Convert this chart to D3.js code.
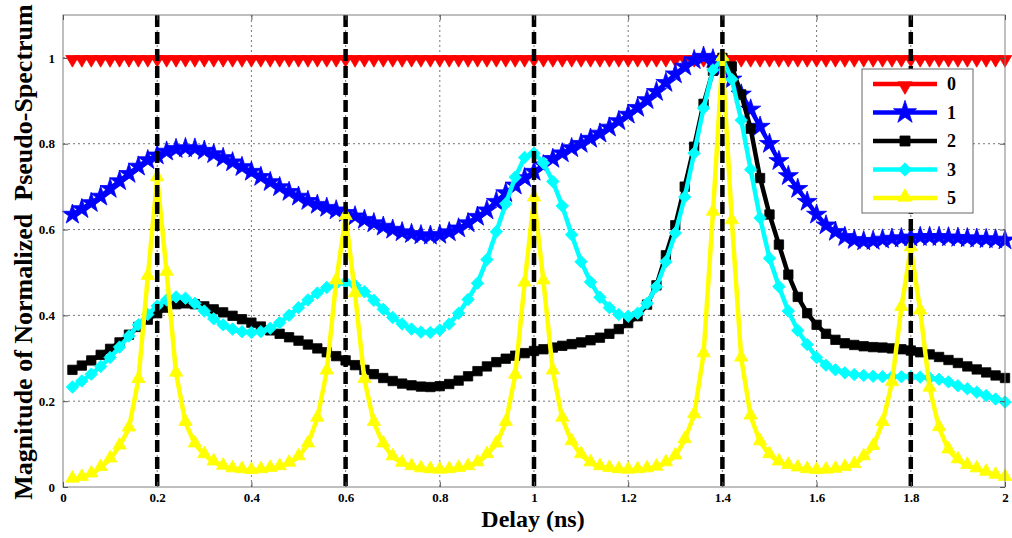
<!DOCTYPE html>
<html>
<head>
<meta charset="UTF-8">
<style>
  body { margin: 0; background: #fff; }
  svg text { font-family: "Liberation Serif", "Times New Roman", serif; font-weight: bold; }
  .grid line { stroke: #777; stroke-width: 1; stroke-dasharray: 2,3; }
  .axis path { display: none; }
  .axis line { stroke: #555; }
  .axis text { font-size: 13px; fill: #000; }
</style>
</head>
<body>
<script src="https://cdn.jsdelivr.net/npm/d3@7"></script>
<script>
var delay = d3.range(1, 101).map(function(i) { return +(i * 0.02).toFixed(2); });

var s0 = delay.map(function() { return 1; });
var s1 = [0.635,0.648,0.662,0.677,0.695,0.713,0.730,0.747,0.762,0.773,
          0.782,0.788,0.790,0.789,0.784,0.776,0.767,0.757,0.746,0.735,
          0.723,0.711,0.699,0.688,0.677,0.667,0.658,0.651,0.645,0.639,
          0.631,0.623,0.615,0.607,0.600,0.594,0.590,0.587,0.586,0.588,
          0.594,0.603,0.615,0.630,0.645,0.665,0.685,0.703,0.720,0.735,
          0.750,0.765,0.778,0.790,0.800,0.812,0.824,0.838,0.853,0.868,
          0.884,0.902,0.921,0.942,0.962,0.980,0.995,1.003,0.997,0.978,
          0.950,0.915,0.880,0.840,0.800,0.760,0.725,0.695,0.665,0.635,
          0.610,0.595,0.583,0.576,0.573,0.574,0.577,0.579,0.580,0.582,
          0.583,0.583,0.583,0.582,0.581,0.580,0.579,0.578,0.577,0.575];
var s2 = [0.273,0.283,0.295,0.308,0.322,0.337,0.355,0.373,0.390,0.405,
          0.418,0.426,0.428,0.426,0.421,0.414,0.407,0.399,0.391,0.383,
          0.374,0.365,0.357,0.349,0.341,0.332,0.323,0.314,0.305,0.295,
          0.284,0.273,0.263,0.254,0.247,0.241,0.237,0.234,0.233,0.235,
          0.240,0.248,0.258,0.270,0.281,0.291,0.299,0.306,0.312,0.317,
          0.321,0.325,0.329,0.333,0.337,0.342,0.348,0.357,0.368,0.382,
          0.398,0.425,0.470,0.540,0.610,0.700,0.793,0.893,0.970,1.000,
          0.980,0.915,0.835,0.720,0.635,0.565,0.495,0.443,0.405,0.378,
          0.357,0.343,0.335,0.331,0.328,0.326,0.325,0.323,0.321,0.318,
          0.314,0.309,0.303,0.296,0.289,0.281,0.274,0.267,0.260,0.254];
var s3 = [0.233,0.247,0.263,0.281,0.302,0.326,0.352,0.378,0.402,0.422,
          0.436,0.443,0.440,0.428,0.410,0.392,0.378,0.368,0.362,0.360,
          0.362,0.370,0.383,0.400,0.418,0.436,0.452,0.465,0.474,0.477,
          0.470,0.455,0.435,0.414,0.395,0.380,0.368,0.361,0.360,0.366,
          0.380,0.405,0.437,0.475,0.530,0.595,0.660,0.722,0.768,0.778,
          0.755,0.712,0.655,0.588,0.525,0.478,0.442,0.418,0.402,0.398,
          0.405,0.428,0.467,0.525,0.592,0.676,0.778,0.883,0.972,0.998,
          0.950,0.855,0.740,0.627,0.533,0.467,0.410,0.365,0.332,0.302,
          0.284,0.273,0.266,0.262,0.260,0.258,0.257,0.257,0.257,0.257,
          0.256,0.254,0.251,0.245,0.236,0.229,0.221,0.213,0.205,0.198];
var s5 = [0.018,0.022,0.030,0.045,0.065,0.095,0.137,0.250,0.490,0.720,
          0.500,0.265,0.150,0.100,0.075,0.058,0.048,0.042,0.040,0.038,
          0.040,0.043,0.047,0.055,0.070,0.100,0.160,0.270,0.480,0.630,
          0.450,0.250,0.150,0.100,0.070,0.055,0.047,0.042,0.040,0.039,
          0.040,0.043,0.047,0.056,0.075,0.100,0.150,0.260,0.475,0.673,
          0.480,0.270,0.160,0.105,0.075,0.056,0.047,0.043,0.040,0.039,
          0.040,0.042,0.046,0.056,0.072,0.110,0.168,0.310,0.640,1.000,
          0.620,0.300,0.165,0.105,0.075,0.058,0.050,0.044,0.040,0.038,
          0.039,0.041,0.045,0.052,0.070,0.094,0.150,0.243,0.418,0.557,
          0.410,0.230,0.138,0.086,0.063,0.050,0.042,0.034,0.027,0.022];

var seriesNames = ["0", "1", "2", "3", "5"];
var seriesValues = [s0, s1, s2, s3, s5];
var seriesColors = ["#ff0000", "#0000ff", "#000000", "#00ffff", "#ffff00"];
var seriesMarkers = ["down", "star", "square", "diamond", "up"];

var peakDelays = [0.2, 0.6, 1.0, 1.4, 1.8];
var xTicks = [0, 0.2, 0.4, 0.6, 0.8, 1, 1.2, 1.4, 1.6, 1.8, 2];
var xTickLabels = ["0", "0.2", "0.4", "0.6", "0.8", "1", "1.2", "1.4", "1.6", "1.8", "2"];
var yTicks = [0, 0.2, 0.4, 0.6, 0.8, 1];
var yTickLabels = ["0", "0.2", "0.4", "0.6", "0.8", "1"];

var W = 1012, H = 538;
var margin = {top: 15, right: 7, bottom: 51, left: 63};
var w = W - margin.left - margin.right, h = H - margin.top - margin.bottom;

var svg = d3.select("body").append("svg").attr("width", W).attr("height", H);
var g = svg.append("g").attr("transform", "translate(" + margin.left + "," + margin.top + ")");

var x = d3.scaleLinear().domain([0, 2]).range([0, w]);
var y = d3.scaleLinear().domain([0, 1.1]).range([h, 0]);

// grid
var grid = g.append("g").attr("class", "grid");
grid.selectAll(".gx").data(xTicks.slice(1, -1)).enter().append("line")
    .attr("x1", function(d) { return x(d); }).attr("x2", function(d) { return x(d); })
    .attr("y1", 0).attr("y2", h);
grid.selectAll(".gy").data(yTicks.slice(1)).enter().append("line")
    .attr("y1", function(d) { return y(d); }).attr("y2", function(d) { return y(d); })
    .attr("x1", 0).attr("x2", w);

function markerPath(kind, big) {
    var k = big ? 1.15 : 1;
    if (kind === "star") return d3.symbol().type(d3.symbolStar).size(125 * k * k)();
    if (kind === "square") return d3.symbol().type(d3.symbolSquare).size(88 * k)();
    if (kind === "diamond") return d3.symbol().type(d3.symbolSquare).size(78 * k)();
    return d3.symbol().type(d3.symbolTriangle).size(78 * k)();
}
function markerRot(kind) {
    if (kind === "down") return " rotate(180)";
    if (kind === "diamond") return " rotate(45)";
    return "";
}

var line = d3.line().x(function(d) { return x(d[0]); }).y(function(d) { return y(d[1]); });

seriesValues.forEach(function(vals, i) {
    var pts = delay.map(function(d, j) { return [d, vals[j]]; });
    var sg = g.append("g");
    sg.append("path").datum(pts).attr("d", line)
        .attr("fill", "none").attr("stroke", seriesColors[i]).attr("stroke-width", 4.5)
        .attr("stroke-linejoin", "round");
    var kind = seriesMarkers[i];
    var p = markerPath(kind, false);
    sg.selectAll("path.m").data(pts).enter().append("path").attr("class", "m")
        .attr("d", p)
        .attr("transform", function(d) {
            var dyOff = kind === "down" ? 1.5 : (kind === "up" ? -1 : 0);
            return "translate(" + x(d[0]) + "," + (y(d[1]) + dyOff) + ")" + markerRot(kind);
        })
        .attr("fill", seriesColors[i]).attr("stroke", seriesColors[i]).attr("stroke-width", 0.8);
});

// vertical dashed lines at the true delays
g.selectAll(".peak").data(peakDelays).enter().append("line")
    .attr("x1", function(d) { return x(d); }).attr("x2", function(d) { return x(d); })
    .attr("y1", y(1.1)).attr("y2", y(0))
    .attr("stroke", "#000").attr("stroke-width", 4.5).attr("stroke-dasharray", "12,5");

// box
g.append("rect").attr("x", 0).attr("y", 0).attr("width", w).attr("height", h)
    .attr("fill", "none").attr("stroke", "#808080").attr("stroke-width", 1);

// axes
g.append("g").attr("class", "axis").attr("transform", "translate(0," + h + ")")
    .call(d3.axisBottom(x).tickValues(xTicks).tickSizeInner(-5).tickSizeOuter(0).tickPadding(6)
        .tickFormat(function(d, i) { return xTickLabels[i]; }));
g.append("g").attr("class", "axis")
    .call(d3.axisTop(x).tickValues(xTicks).tickSizeInner(-5).tickSizeOuter(0).tickFormat(""));
g.append("g").attr("class", "axis")
    .call(d3.axisLeft(y).tickValues(yTicks).tickSizeInner(-5).tickSizeOuter(0).tickPadding(8)
        .tickFormat(function(d, i) { return yTickLabels[i]; }));
g.append("g").attr("class", "axis").attr("transform", "translate(" + w + ",0)")
    .call(d3.axisRight(y).tickValues(yTicks).tickSizeInner(-5).tickSizeOuter(0).tickFormat(""));

// axis titles
svg.append("text").attr("x", margin.left + w / 2 - 1).attr("y", 527)
    .attr("text-anchor", "middle").attr("font-size", 24).text("Delay (ns)");
svg.append("text").attr("transform", "translate(32," + (margin.top + h / 2 + 1) + ") rotate(-90)")
    .attr("text-anchor", "middle").attr("font-size", 26)
    .text("Magnitude of Normalized  Pseudo-Spectrum").style("white-space", "pre");

// legend
var lg = svg.append("g").attr("transform", "translate(862,69)");
lg.append("rect").attr("width", 111).attr("height", 144)
    .attr("fill", "#fff").attr("stroke", "#666").attr("stroke-width", 1);
seriesNames.forEach(function(name, i) {
    var yy = 15 + i * 28.5;
    lg.append("line").attr("x1", 11).attr("x2", 75).attr("y1", yy).attr("y2", yy)
        .attr("stroke", seriesColors[i]).attr("stroke-width", 4.5);
    var kind = seriesMarkers[i];
    lg.append("path").attr("d", markerPath(kind, true))
        .attr("transform", "translate(43," + (yy + (kind === "down" ? 2 : (kind === "up" ? -1 : 0))) + ")" + markerRot(kind))
        .attr("fill", seriesColors[i]).attr("stroke", seriesColors[i]).attr("stroke-width", 0.8);
    lg.append("text").attr("x", 85).attr("y", yy + 6).attr("font-size", 18).text(name);
});
</script>
</body>
</html>
